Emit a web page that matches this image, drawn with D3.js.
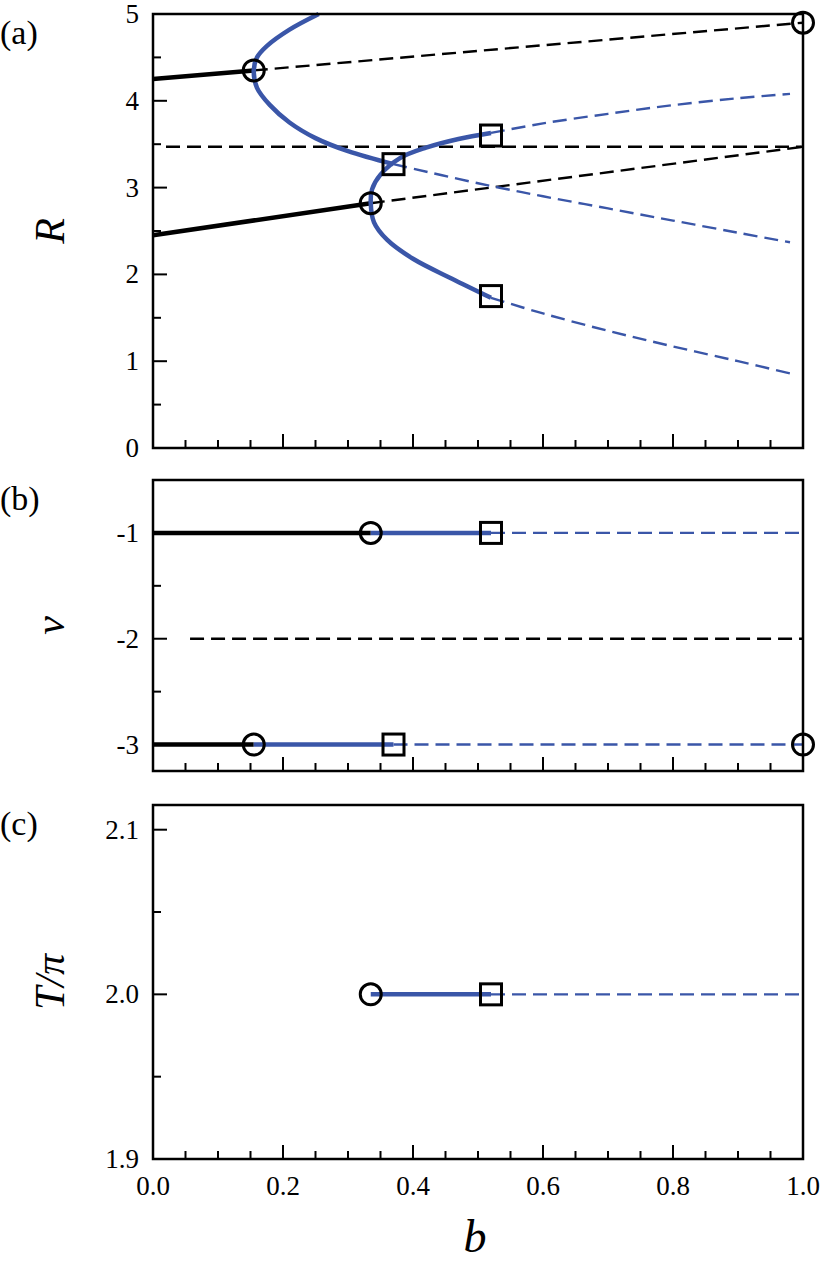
<!DOCTYPE html><html><head><meta charset="utf-8"><script src="https://cdn.jsdelivr.net/npm/d3@7"></script>
<style>body{margin:0;background:#fff}</style></head><body><svg id="s" width="830" height="1267" font-family="'Liberation Serif','Times New Roman',Times,serif"></svg>
<script>
const xTicks=[0,0.2,0.4,0.6,0.8,1.0];
const aTicks=[0,1,2,3,4,5], bTicks=[-1,-2,-3], cTicks=[1.9,2.0,2.1];
// panel a
const aBlackSolid=[[[0,4.25],[0.155,4.35]],[[0,2.45],[0.335,2.82]]];
const aBlackDash=[[[0.155,4.35],[1,4.9]],[[0.335,2.82],[1,3.47]],[[0.02,3.47],[1,3.47]]];
const aBlueSolid=[
 [[0.255,5.0],[0.21,4.82],[0.175,4.63],[0.16,4.5],[0.155,4.35],[0.16,4.15],[0.18,3.95],[0.21,3.75],[0.25,3.57],[0.3,3.42],[0.37,3.27]],
 [[0.52,3.63],[0.47,3.56],[0.42,3.46],[0.38,3.34],[0.35,3.15],[0.337,2.98],[0.335,2.82],[0.34,2.6],[0.36,2.4],[0.4,2.18],[0.46,1.95],[0.52,1.73]]];
const aBlueDash=[
 [[0.37,3.27],[0.5,3.05],[0.6,2.9],[0.7,2.76],[0.8,2.62],[0.9,2.48],[0.98,2.37]],
 [[0.52,3.63],[0.6,3.74],[0.7,3.85],[0.8,3.95],[0.9,4.03],[0.98,4.08]],
 [[0.52,1.73],[0.6,1.55],[0.7,1.35],[0.8,1.17],[0.9,1.0],[0.98,0.86]]];
const aCircles=[[0.155,4.35],[0.335,2.82],[1,4.9]], aSquares=[[0.37,3.27],[0.52,3.6],[0.52,1.75]];
// panel b
const bBlackSolid=[[[0,-1],[0.335,-1]],[[0,-3],[0.155,-3]]];
const bBlackDash=[[[0.057,-2],[1,-2]]];
const bBlueSolid=[[[0.335,-1],[0.52,-1]],[[0.155,-3],[0.37,-3]]];
const bBlueDash=[[[0.52,-1],[1,-1]],[[0.37,-3],[1,-3]]];
const bCircles=[[0.335,-1],[0.155,-3],[1,-3]], bSquares=[[0.52,-1],[0.37,-3]];
// panel c
const cBlueSolid=[[[0.335,2.0],[0.52,2.0]]], cBlueDash=[[[0.52,2.0],[1,2.0]]];
const cCircles=[[0.335,2.0]], cSquares=[[0.52,2.0]];

const svg=d3.select("#s"), BLUE="#3a56a8";
const X0=153,X1=803;
const x=d3.scaleLinear().domain([0,1]).range([X0,X1]);
function panel(o){
 const y=d3.scaleLinear().domain(o.dom).range([o.y1,o.y0]);
 const g=svg.append("g");
 const line=d3.line().x(d=>x(d[0])).y(d=>y(d[1])).curve(d3.curveCatmullRom);
 const draw=(arr,col,w,dash)=>arr.forEach(p=>g.append("path").attr("d",line(p)).attr("fill","none").attr("stroke",col).attr("stroke-width",w).attr("stroke-dasharray",dash||null));
 draw(o.bd||[],"#000",2.4,"14,7");draw(o.ud||[],BLUE,2.4,"14,7");
 draw(o.bs||[],"#000",4.5);draw(o.us||[],BLUE,4.5);
 (o.ci||[]).forEach(d=>g.append("circle").attr("cx",x(d[0])).attr("cy",y(d[1])).attr("r",10.5).attr("fill","none").attr("stroke","#000").attr("stroke-width",3));
 (o.sq||[]).forEach(d=>g.append("rect").attr("x",x(d[0])-10.5).attr("y",y(d[1])-10.5).attr("width",21).attr("height",21).attr("fill","none").attr("stroke","#000").attr("stroke-width",3));
 g.append("rect").attr("x",X0).attr("y",o.y0).attr("width",X1-X0).attr("height",o.y1-o.y0).attr("fill","none").attr("stroke","#000").attr("stroke-width",2.5);
 const minorX=d3.range(0,1.0001,0.05);
 minorX.forEach(v=>{const maj=Math.abs(v*5-Math.round(v*5))<1e-6;g.append("line").attr("x1",x(v)).attr("x2",x(v)).attr("y1",o.y1).attr("y2",o.y1-(maj?14:8)).attr("stroke","#000").attr("stroke-width",2);});
 o.minorY.forEach(v=>g.append("line").attr("x1",X0).attr("x2",X0+8).attr("y1",y(v)).attr("y2",y(v)).attr("stroke","#000").attr("stroke-width",2));
 o.ticks.forEach(v=>{g.append("line").attr("x1",X0).attr("x2",X0+14).attr("y1",y(v)).attr("y2",y(v)).attr("stroke","#000").attr("stroke-width",2);
  g.append("text").attr("x",X0-14).attr("y",y(v)+9).attr("text-anchor","end").attr("font-size",27).text(o.fmt(v));});
 g.append("text").attr("x",0).attr("y",o.y0+30).attr("font-size",34).text(o.lab);
 g.append("text").attr("transform",`translate(${o.yl},${(o.y0+o.y1)/2}) rotate(-90)`).attr("text-anchor","middle").attr("font-size",42).attr("font-style","italic").text(o.name);
 if(o.xt){xTicks.forEach(v=>g.append("text").attr("x",x(v)).attr("y",o.y1+36).attr("text-anchor","middle").attr("font-size",27).text(v.toFixed(1)));}
}
panel({dom:[0,5],y0:14,y1:448,ticks:aTicks,minorY:[0.5,1.5,2.5,3.5,4.5],fmt:v=>v,lab:"(a)",name:"R",yl:64,bs:aBlackSolid,bd:aBlackDash,us:aBlueSolid,ud:aBlueDash,ci:aCircles,sq:aSquares});
panel({dom:[-3.25,-0.5],y0:480,y1:771,ticks:bTicks,minorY:[-1.5,-2.5],fmt:v=>v,lab:"(b)",name:"v",yl:64,bs:bBlackSolid,bd:bBlackDash,us:bBlueSolid,ud:bBlueDash,ci:bCircles,sq:bSquares});
panel({dom:[1.9,2.115],y0:805,y1:1159,ticks:cTicks,minorY:[1.95,2.05],fmt:v=>v.toFixed(1),lab:"(c)",name:"T/π",yl:64,us:cBlueSolid,ud:cBlueDash,ci:cCircles,sq:cSquares,xt:true});
svg.append("text").attr("x",475).attr("y",1252).attr("text-anchor","middle").attr("font-size",46).attr("font-style","italic").text("b");
</script></body></html>
